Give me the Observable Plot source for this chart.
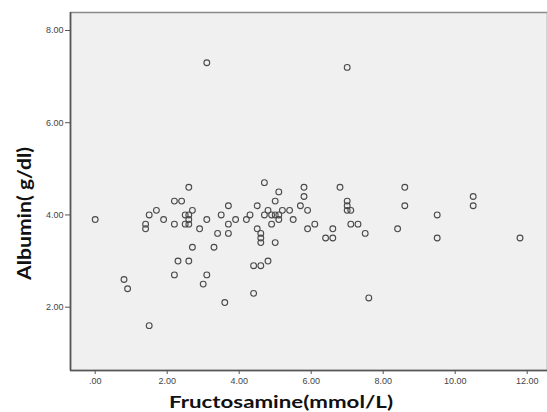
<!DOCTYPE html>
<html>
<head>
<meta charset="utf-8">
<script src="https://cdn.jsdelivr.net/npm/d3@7"></script>
<script src="https://cdn.jsdelivr.net/npm/@observablehq/plot@0.6"></script>
<style>
  html, body { margin: 0; padding: 0; background: #fff; }
  #chart svg { display: block; }
</style>
</head>
<body>
<div id="chart"></div>
<script>
// Fructosamine (mmol/L)
const fructosamine = [
  0.0, 0.8, 0.9, 1.5, 1.4, 1.4, 1.5, 1.7, 1.9, 2.2, 2.4, 2.2, 2.2, 2.3, 2.6, 2.6,
  2.5, 2.6, 2.6, 2.5, 2.6, 2.7, 2.7, 2.9, 3.1, 3.0, 3.1, 3.3, 3.4, 3.5, 3.6, 3.7,
  3.7, 3.7, 3.9, 4.2, 4.3, 4.4, 4.4, 4.5, 4.5, 4.6, 4.6, 4.6, 4.6, 4.7, 4.7, 4.8,
  4.8, 4.9, 5.0, 5.0, 5.0, 5.1, 4.9, 5.1, 5.1, 5.2, 5.4, 5.5, 5.7, 5.8, 5.8, 5.9,
  5.9, 6.1, 6.4, 6.6, 6.6, 6.8, 7.0, 7.0, 7.0, 7.1, 7.1, 7.3, 7.5, 7.6, 8.4, 8.6,
  8.6, 9.5, 9.5, 10.5, 10.5, 11.8, 3.1, 7.0
];
// Albumin (g/dl)
const albumin = [
  3.9, 2.6, 2.4, 1.6, 3.8, 3.7, 4.0, 4.1, 3.9, 4.3, 4.3, 3.8, 2.7, 3.0, 3.0, 4.6,
  4.0, 4.0, 3.9, 3.8, 3.8, 4.1, 3.3, 3.7, 3.9, 2.5, 2.7, 3.3, 3.6, 4.0, 2.1, 4.2,
  3.8, 3.6, 3.9, 3.9, 4.0, 2.9, 2.3, 4.2, 3.7, 3.6, 3.5, 3.4, 2.9, 4.7, 4.0, 4.1,
  3.0, 3.8, 4.3, 3.4, 4.0, 4.0, 4.0, 4.5, 3.9, 4.1, 4.1, 3.9, 4.2, 4.6, 4.4, 4.1,
  3.7, 3.8, 3.5, 3.5, 3.7, 4.6, 4.3, 4.2, 4.1, 4.1, 3.8, 3.8, 3.6, 2.2, 3.7, 4.6,
  4.2, 4.0, 3.5, 4.4, 4.2, 3.5, 7.3, 7.2
];
const xTicks = [0, 2, 4, 6, 8, 10, 12];
const xTickLabels = [".00", "2.00", "4.00", "6.00", "8.00", "10.00", "12.00"];
const yTicks = [2, 4, 6, 8];
const yTickLabels = ["2.00", "4.00", "6.00", "8.00"];
const xTitle = "Fructosamine(mmol/L)";
const yTitle = "Albumin( g/dl)";
const xDomain = [-0.686, 12.564];
const yDomain = [0.627, 8.39];

const points = fructosamine.map((x, i) => ({x, y: albumin[i]}));

const chart = Plot.plot({
  width: 547,
  height: 412,
  marginLeft: 70,
  marginRight: 0,
  marginTop: 12,
  marginBottom: 42,
  style: {background: "#ffffff", fontFamily: "'Liberation Sans', Arial, sans-serif"},
  x: {domain: xDomain},
  y: {domain: yDomain},
  marks: [
    Plot.frame({fill: "#f0f0f0", stroke: "#8a8a8a", strokeWidth: 1.5}),
    Plot.ruleX([xDomain[0]], {stroke: "#555", strokeWidth: 1.6}),
    Plot.ruleY([yDomain[0]], {stroke: "#555", strokeWidth: 1.6}),
    Plot.axisX({
      ticks: xTicks,
      tickFormat: (d) => xTickLabels[xTicks.indexOf(d)],
      tickSize: 4,
      tickPadding: 3,
      stroke: "#555",
      fill: "#444",
      fontSize: 9,
      label: null
    }),
    Plot.axisY({
      ticks: yTicks,
      tickFormat: (d) => yTickLabels[yTicks.indexOf(d)],
      tickSize: 5,
      tickPadding: 2,
      stroke: "#555",
      fill: "#444",
      fontSize: 9,
      label: null
    }),
    Plot.dot(points, {x: "x", y: "y", r: 2.9, stroke: "#4a4a4a", strokeWidth: 1.1, fill: "none"}),
    Plot.text([xTitle], {
      frameAnchor: "bottom", text: (d) => d, textAnchor: "middle", lineAnchor: "middle",
      dx: -28, dy: 32, fontSize: 17, fontWeight: "bold", fill: "#111",
      fontFamily: "Lato, sans-serif"
    }),
    Plot.text([yTitle], {
      frameAnchor: "left", text: (d) => d, textAnchor: "middle", lineAnchor: "middle",
      rotate: -90, dx: -45, dy: 22, fontSize: 18, fontWeight: "bold", fill: "#111",
      fontFamily: "Lato, sans-serif"
    })
  ]
});
// stretch the axis titles to the reference's text lengths
d3.select(chart).selectAll("text").each(function () {
  const t = this.textContent;
  if (t === xTitle) d3.select(this).attr("textLength", 224).attr("lengthAdjust", "spacingAndGlyphs");
  if (t === yTitle) d3.select(this).attr("textLength", 133).attr("lengthAdjust", "spacingAndGlyphs");
});
document.getElementById("chart").appendChild(chart);
</script>
</body>
</html>
